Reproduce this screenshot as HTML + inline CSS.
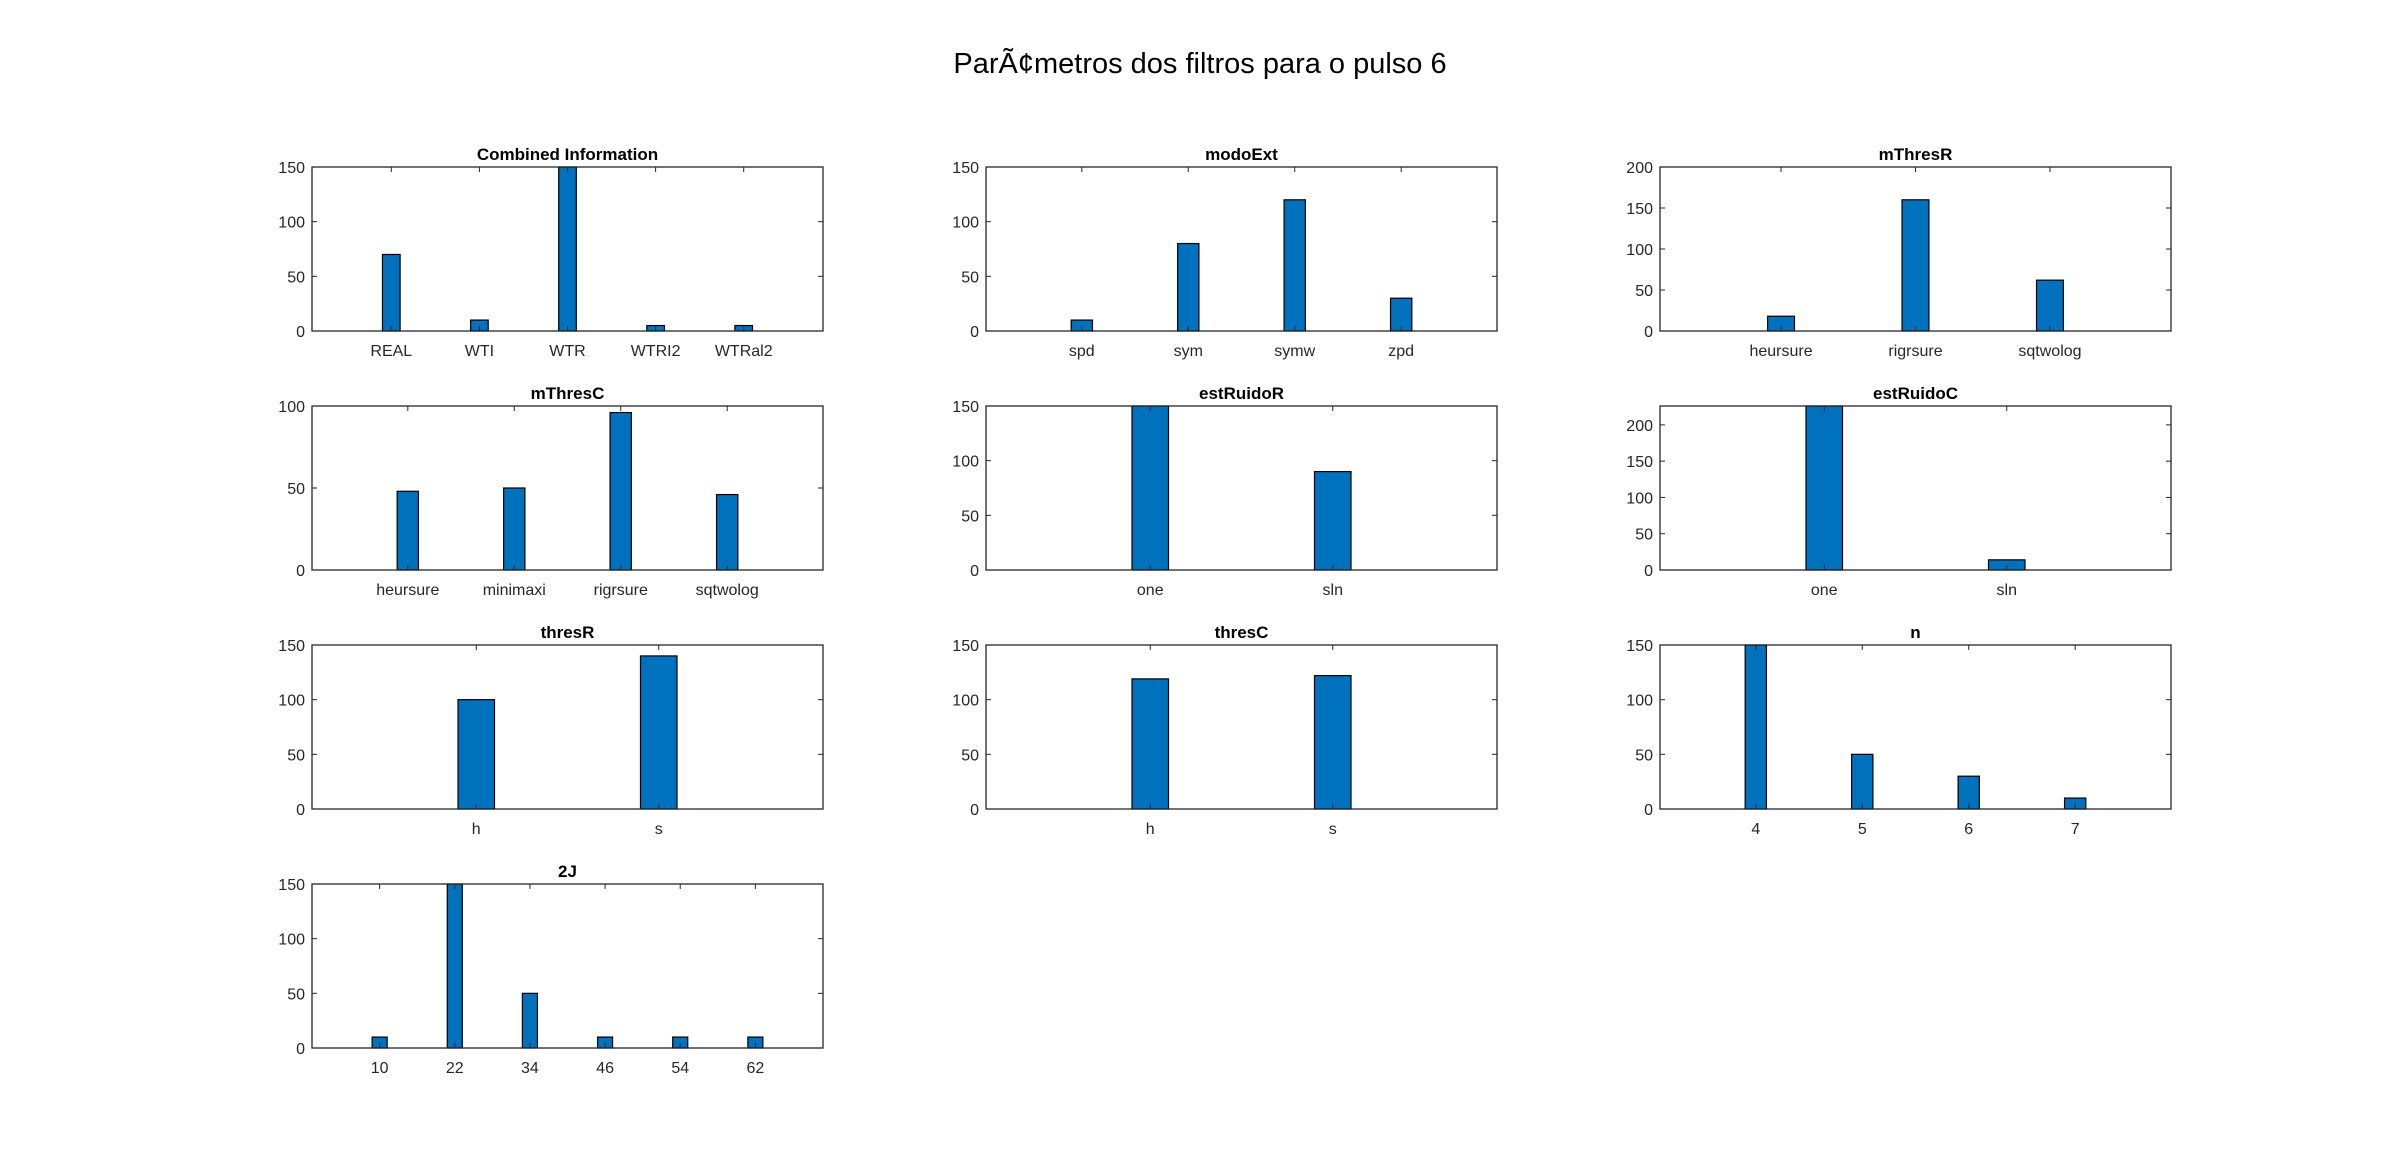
<!DOCTYPE html>
<html><head><meta charset="utf-8">
<style>
html,body{margin:0;padding:0;background:#fff;}
svg{display:block;font-family:"Liberation Sans",Arial,sans-serif;}
</style></head>
<body>
<svg id="fig" width="2400" height="1170" viewBox="0 0 2400 1170">
<rect x="0" y="0" width="2400" height="1170" fill="#fff"/>
<text x="1200" y="73" text-anchor="middle" font-size="29" fill="#000">ParÃ¢metros dos filtros para o pulso 6</text>
</svg>
<script>
// ---- data ----
const combinedCats = ["REAL","WTI","WTR","WTRI2","WTRal2"];
const combinedVals = [70,10,160,5,5];
const combinedYTicks = [0,50,100,150];
const modoExtCats = ["spd","sym","symw","zpd"];
const modoExtVals = [10,80,120,30];
const modoExtYTicks = [0,50,100,150];
const mThresRCats = ["heursure","rigrsure","sqtwolog"];
const mThresRVals = [18,160,62];
const mThresRYTicks = [0,50,100,150,200];
const mThresCCats = ["heursure","minimaxi","rigrsure","sqtwolog"];
const mThresCVals = [48,50,96,46];
const mThresCYTicks = [0,50,100];
const estRuidoRCats = ["one","sln"];
const estRuidoRVals = [160,90];
const estRuidoRYTicks = [0,50,100,150];
const estRuidoCCats = ["one","sln"];
const estRuidoCVals = [226,14];
const estRuidoCYTicks = [0,50,100,150,200];
const thresRCats = ["h","s"];
const thresRVals = [100,140];
const thresRYTicks = [0,50,100,150];
const thresCCats = ["h","s"];
const thresCVals = [119,122];
const thresCYTicks = [0,50,100,150];
const nCats = ["4","5","6","7"];
const nVals = [160,50,30,10];
const nYTicks = [0,50,100,150];
const jCats = ["10","22","34","46","54","62"];
const jVals = [10,160,50,10,10,10];
const jYTicks = [0,50,100,150];
const yMaxes = [150,150,200,100,150,226,150,150,150,150];

const charts = [
  {name:"combined-information", title:"Combined Information", cats:combinedCats, vals:combinedVals, yt:combinedYTicks},
  {name:"modoext", title:"modoExt", cats:modoExtCats, vals:modoExtVals, yt:modoExtYTicks},
  {name:"mthresr", title:"mThresR", cats:mThresRCats, vals:mThresRVals, yt:mThresRYTicks},
  {name:"mthresc", title:"mThresC", cats:mThresCCats, vals:mThresCVals, yt:mThresCYTicks},
  {name:"estruidor", title:"estRuidoR", cats:estRuidoRCats, vals:estRuidoRVals, yt:estRuidoRYTicks},
  {name:"estruidoc", title:"estRuidoC", cats:estRuidoCCats, vals:estRuidoCVals, yt:estRuidoCYTicks},
  {name:"thresr", title:"thresR", cats:thresRCats, vals:thresRVals, yt:thresRYTicks},
  {name:"thresc", title:"thresC", cats:thresCCats, vals:thresCVals, yt:thresCYTicks},
  {name:"n", title:"n", cats:nCats, vals:nVals, yt:nYTicks},
  {name:"2j", title:"2J", cats:jCats, vals:jVals, yt:jYTicks}
];

const NS = "http://www.w3.org/2000/svg";
const fig = document.getElementById("fig");
function mk(tag, attrs, parent){
  const e = document.createElementNS(NS, tag);
  for (const k in attrs) e.setAttribute(k, attrs[k]);
  parent.appendChild(e);
  return e;
}
const colX = [312, 986, 1660];
const rowY = [167, 406, 645, 884];
const W = 511, H = 164;

charts.forEach((c, i) => {
  const x0 = colX[i % 3], y0 = rowY[Math.floor(i / 3)];
  const ymax = yMaxes[i];
  const N = c.cats.length;
  const lo = 0.1, hi = N + 0.9;
  const xs = v => x0 + (v - lo) / (hi - lo) * W;
  const ys = v => y0 + H - Math.min(v, ymax) / ymax * H;

  const g = mk("g", {}, fig);
  
  

  const bw = 0.2;
  c.vals.forEach((v, k) => {
    const xa = xs(k + 1 - bw / 2), xb = xs(k + 1 + bw / 2);
    const r = mk("rect", {x: xa, y: ys(v), width: xb - xa, height: ys(0) - ys(v), fill: "#0072BD", stroke: "#000", "stroke-width": 1.2}, g);
    
    
  });

  c.cats.forEach((cat, k) => {
    const x = xs(k + 1);
    mk("line", {x1: x, y1: y0 + H, x2: x, y2: y0 + H - 5, stroke: "#262626", "stroke-width": 1}, g);
    mk("line", {x1: x, y1: y0, x2: x, y2: y0 + 5, stroke: "#262626", "stroke-width": 1}, g);
    const t = mk("text", {x: x, y: y0 + H + 25, "text-anchor": "middle", "font-size": 16, fill: "#262626"}, g);
    t.textContent = cat;
    
    
  });

  c.yt.forEach(v => {
    const y = ys(v);
    mk("line", {x1: x0, y1: y, x2: x0 + 5, y2: y, stroke: "#262626", "stroke-width": 1}, g);
    mk("line", {x1: x0 + W, y1: y, x2: x0 + W - 5, y2: y, stroke: "#262626", "stroke-width": 1}, g);
    const t = mk("text", {x: x0 - 7, y: y + 6, "text-anchor": "end", "font-size": 16, fill: "#262626"}, g);
    t.textContent = v;
    
    
  });

  const box = mk("rect", {x: x0, y: y0, width: W, height: H, fill: "none", stroke: "#262626", "stroke-width": 1.3}, g);
  
  

  const tt = mk("text", {x: x0 + W / 2, y: y0 - 7, "text-anchor": "middle", "font-size": 17, "font-weight": "bold", fill: "#000"}, g);
  tt.textContent = c.title;
  
  
});
</script>
</body></html>
